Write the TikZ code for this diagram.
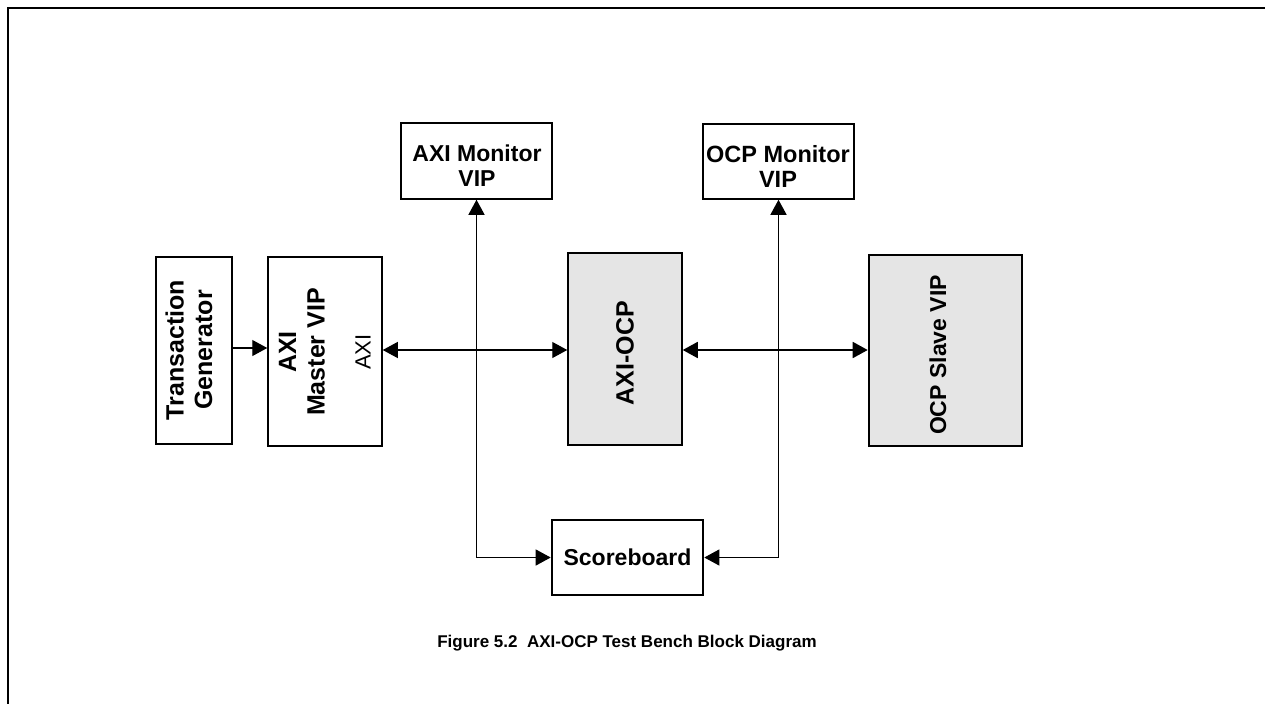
\documentclass[tikz,border=0pt]{standalone}
\usepackage{fontspec}
\setmainfont{Liberation Sans}
\usetikzlibrary{arrows.meta}
\begin{document}
\begin{tikzpicture}[x=1pt,y=-1pt,
  box/.style={draw=black, line width=1.5pt, rectangle, inner sep=0pt, fill=white},
  grey/.style={box, fill=black!10},
  thick box/.style={line width=2.6pt},
  rottext/.style={rotate=90, align=center, font=\bfseries\fontsize{25}{28.5}\selectfont, inner sep=0pt},
  lbl/.style={align=center, font=\bfseries\fontsize{23}{25}\selectfont, inner sep=0pt},
  conn/.style={line width=1.2pt},
  tip/.style={-{Triangle[length=15pt,width=16pt]}},
  tips/.style={{Triangle[length=15pt,width=16pt]}-{Triangle[length=15pt,width=16pt]}}
]
\useasboundingbox (0,0) rectangle (1265,704);
\fill[white] (0,0) rectangle (1265,704);
% frame
\coordinate (f1) at (1265,8);
\coordinate (f2) at (8,8);
\coordinate (f3) at (8,704);
\draw[line width=2pt] (f1) -- (f2) -- (f3);

% boxes
\node[box, minimum width=76pt, minimum height=187pt] (tg) at (194,350.5) {};
\node[box, minimum width=114pt, minimum height=189pt] (master) at (325,351.5) {};
\node[grey, minimum width=114pt, minimum height=192pt] (axiocp) at (625,349) {};
\node[grey, thick box, minimum width=153pt, minimum height=191pt] (slave) at (945.5,350.5) {};
\node[box, minimum width=151pt, minimum height=76pt] (amon) at (476.5,161) {};
\node[box, minimum width=151pt, minimum height=75pt] (omon) at (778.5,161.5) {};
\node[box, thick box, minimum width=151pt, minimum height=75pt] (sb) at (627.5,557.5) {};

% texts
\node[rottext] (tgt) at (189,350) {Transaction\\Generator};
\node[rottext] (mt) at (302,352) {AXI\\Master VIP};
\node[rottext, font=\fontsize{22}{25}\selectfont] (mt2) at (363,352) {AXI};
\node[rottext] (aot) at (625,353) {AXI-OCP};
\node[rottext, font=\bfseries\fontsize{23}{25}\selectfont] (st) at (938,355) {OCP Slave VIP};
\node[lbl] (amt) at (477,166) {AXI Monitor\\VIP};
\node[lbl, font=\bfseries\fontsize{23.5}{25}\selectfont] (omt) at (778,166) {OCP Monitor\\VIP};
\node[lbl] (sbt) at (sb.center) {Scoreboard};
\node[inner sep=0pt, font=\bfseries\fontsize{17}{20}\selectfont] (cap) at (627,643) {Figure 5.2\ \ AXI-OCP Test Bench Block Diagram};

% connectors
\draw[conn, tip] (tg.east |- 0,348) -- (master.west |- 0,348);
\draw[conn, tips] (master.east |- 0,350) -- (axiocp.west |- 0,350);
\draw[conn, line width=1.8pt, tips] (axiocp.east |- 0,350) -- (slave.west |- 0,350);
\draw[conn, tips] (amon.south) -- (amon.south |- sb.west) -- (sb.west);
\draw[conn, tips] (omon.south) -- (omon.south |- sb.east) -- (sb.east);
\end{tikzpicture}
\end{document}
